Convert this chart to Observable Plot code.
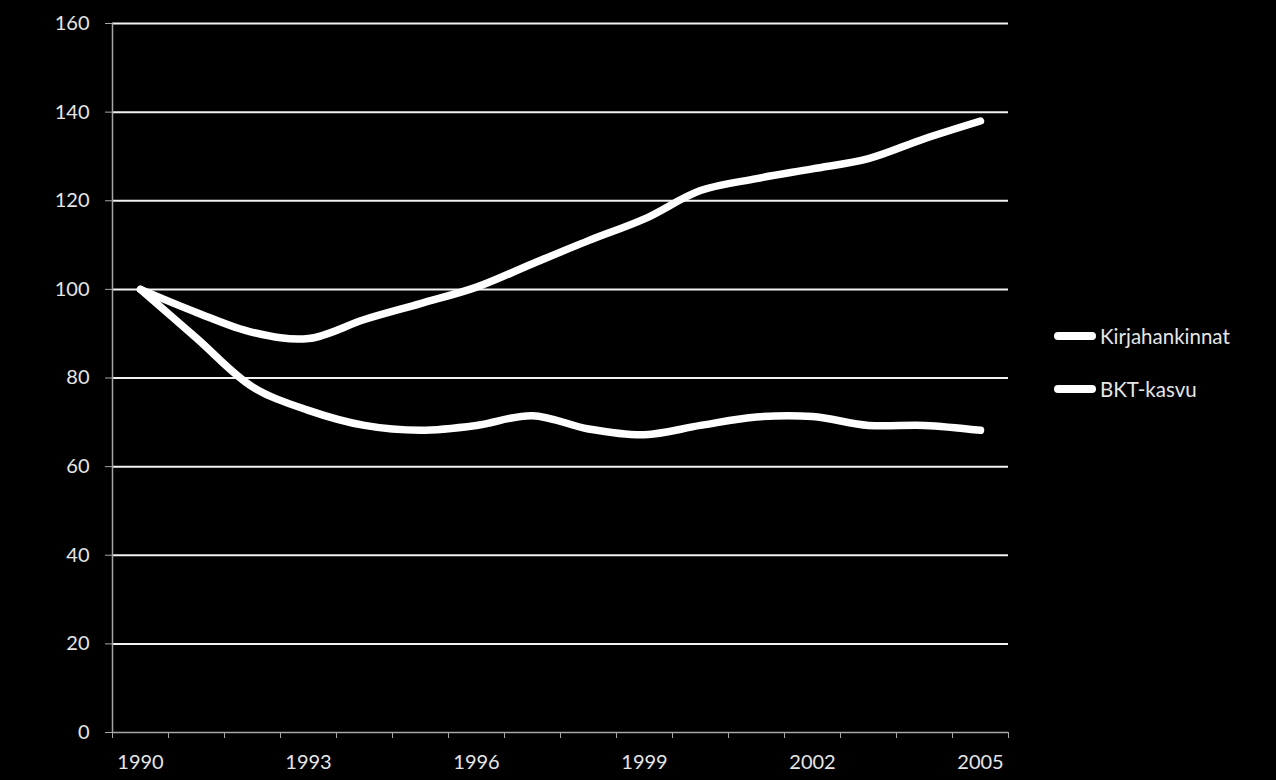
<!DOCTYPE html>
<html>
<head>
<meta charset="utf-8">
<script src="https://cdn.jsdelivr.net/npm/d3@7"></script>
<script src="https://cdn.jsdelivr.net/npm/@observablehq/plot@0.6"></script>
<style>
  html, body { margin: 0; padding: 0; background: #000; }
  #wrap { position: relative; width: 1276px; height: 780px; background: #000; overflow: hidden; }
  #legend { position: absolute; left: 1054px; top: 309px; font-family: Lato, sans-serif; font-size: 20.5px; color: #e6e6e6; }
  .item { display: flex; align-items: center; height: 53px; }
  .swatch { width: 42px; height: 8px; border-radius: 4px; background: #fff; margin-right: 4px; }
</style>
</head>
<body>
<div id="wrap"><div id="legend"></div></div>
<script>
const years = [1990,1991,1992,1993,1994,1995,1996,1997,1998,1999,2000,2001,2002,2003,2004,2005];
const kirjahankinnat = [100,89,78,72.7,69.3,68.2,69.3,71.5,68.5,67.2,69.3,71.2,71.3,69.3,69.3,68.2];
const bktKasvu = [100,94.8,90.3,88.9,93.2,96.8,100.5,105.8,111,115.9,122.3,125,127.2,129.5,134,138];
const seriesNames = ["Kirjahankinnat", "BKT-kasvu"];
const yTicks = [0,20,40,60,80,100,120,140,160];
const xLabelYears = [1990,1993,1996,1999,2002,2005];

const data = [];
years.forEach((yr, i) => {
  data.push({year: yr, value: kirjahankinnat[i], series: seriesNames[0]});
  data.push({year: yr, value: bktKasvu[i], series: seriesNames[1]});
});
const boundaries = years.map(y => y - 0.5).concat([years[years.length - 1] + 0.5]);

const textColor = "#e6e6e6";
const plot = Plot.plot({
  width: 1276,
  height: 780,
  marginLeft: 112,
  marginRight: 268,
  marginTop: 23,
  marginBottom: 48,
  style: {background: "#000", color: textColor, fontFamily: "Lato, sans-serif", fontSize: "20px"},
  x: {domain: [boundaries[0], boundaries[boundaries.length - 1]]},
  y: {domain: [0, 160]},
  marks: [
    Plot.gridY(yTicks.filter(t => t > 0), {stroke: "#f2f2f2", strokeOpacity: 1, strokeWidth: 2}),
    Plot.ruleY([0], {stroke: "#a6a6a6", strokeWidth: 1.5}),
    Plot.ruleX([boundaries[0]], {stroke: "#a6a6a6", strokeWidth: 1.5}),
    Plot.axisY({ticks: yTicks, tickSize: 7, tickPadding: 16, stroke: "#a6a6a6", fill: textColor, label: null, tickFormat: d3.format("d")}),
    Plot.axisX({ticks: boundaries, tickSize: 6, tickFormat: () => "", stroke: "#a6a6a6", label: null}),
    Plot.axisX({ticks: xLabelYears, tickSize: 0, tickPadding: 22, tickFormat: d3.format("d"), fill: textColor, label: null}),
    Plot.line(data, {x: "year", y: "value", z: "series", stroke: "#fff", strokeWidth: 7.5, curve: "catmull-rom", strokeLinecap: "round", strokeLinejoin: "round"})
  ]
});
document.getElementById("wrap").prepend(plot);

const legend = document.getElementById("legend");
seriesNames.forEach(name => {
  const it = document.createElement("div");
  it.className = "item";
  const sw = document.createElement("span");
  sw.className = "swatch";
  const lb = document.createElement("span");
  lb.textContent = name;
  it.appendChild(sw); it.appendChild(lb);
  legend.appendChild(it);
});
</script>
</body>
</html>
